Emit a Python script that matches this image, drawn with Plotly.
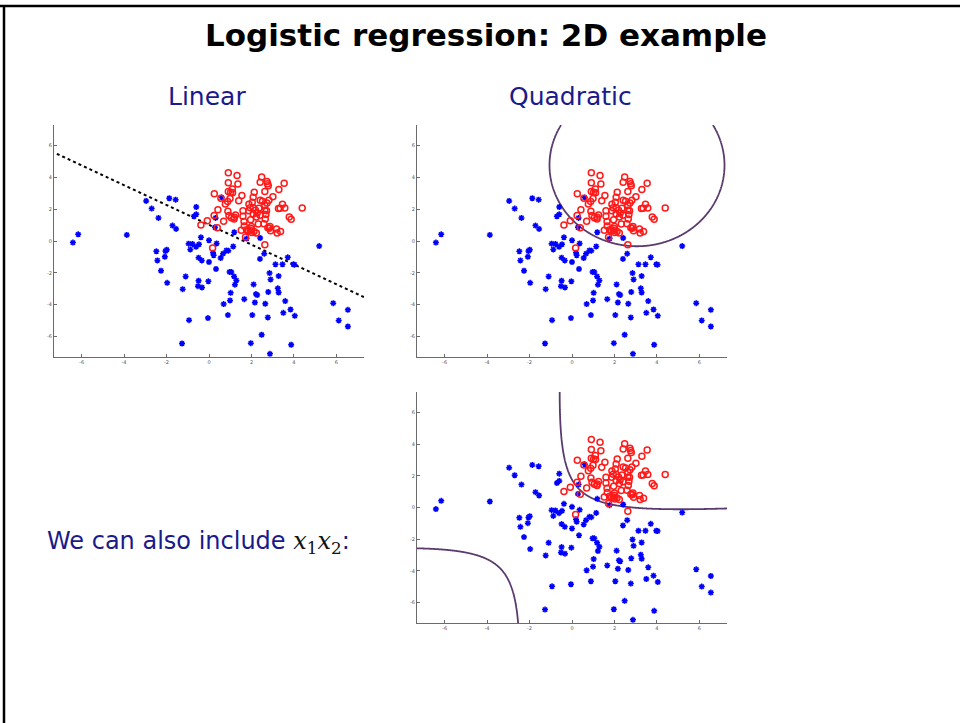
import numpy as np
import plotly.graph_objects as go

# ---- data ----
neg_x1 = [-6.41, -6.16, -3.87, -2.96, -2.70, -2.38, -1.87, -1.57, -1.72, -1.55, -2.48, -2.43, -2.26, -2.05,
          -1.99, -2.08, -1.97, -1.24, -1.10, -0.94, -1.27, -0.96, -0.78, -0.88, -0.61, -0.47, -0.38, -0.60,
          -0.60, -0.71, -0.49, -0.34, -0.49, -0.52, -0.33, 0.00, 0.36, 0.19, 0.22, 0.00, 0.33, -0.03, -0.05,
          0.31, 0.55, 0.66, 0.82, 0.91, 1.19, 1.14, 0.97, 1.05, 1.18, 1.29, 1.22, 1.02, 0.99, 0.69, 0.89,
          1.66, 2.10, 2.21, 2.27, 2.16, 2.04, 1.97, 2.48, 2.65, 2.79, 2.77, 2.87, 2.85, 2.90, 2.40, 2.60,
          2.41, 3.13, 3.28, 3.24, 3.28, 3.46, 3.71, 3.59, 3.50, 3.84, 4.04, 3.87, 3.97, 4.03, 5.19, 5.85,
          6.11, 6.54, 6.54, 0.60, 0.28, 1.77]
neg_x2 = [-0.10, 0.42, 0.38, 2.52, 2.04, 1.45, 2.69, 2.60, 0.97, 0.76, -0.65, -1.22, -1.87, -0.63,
          -0.55, -0.99, -2.63, -3.03, -2.23, -4.98, -6.45, -0.17, -0.19, -0.53, -0.36, -0.21, 0.23, 2.14,
          1.68, 1.55, -1.05, -1.22, -2.50, -2.84, -2.92, 0.04, -0.15, -0.74, -0.90, -1.32, -1.76, -2.54, -4.85,
          1.45, -1.07, -0.80, -0.59, -0.61, 0.55, -0.34, -1.95, -1.95, -2.23, -2.48, -2.75, -3.26, -3.74, -3.97, -4.66,
          -3.66, -2.73, -3.34, -3.40, -3.87, -4.66, -6.43, -5.90, -3.95, -3.21, -4.81, -7.10, -2.02, -2.42, -1.13, -0.80,
          0.19, -1.47, -2.21, -2.98, -3.24, -1.47, -1.03, -3.78, -4.52, -4.31, -4.71, -6.53, -1.47, -1.49, -0.32, -3.91,
          -5.00, -4.33, -5.38, 2.73, 0.86, 0.15]

pos_x1 = [0.91, 1.32, 2.48, 0.91, 1.36, 2.41, 2.73, 2.76, 2.79, 3.54, 0.25, 0.91, 1.02, 1.10, 1.11, 0.56,
          1.55, 2.13, 2.63, 3.29, 2.08, 3.01, 1.40, 0.99, 0.88, 0.77, 1.88, 2.04, 2.41, 2.52, 2.82, 2.73,
          2.63, 3.46, 3.27, 3.35, 3.57, 4.39, 0.42, 0.24, -0.08, -0.38, 0.39, 0.69, 0.89, 0.94, 1.05, 1.19,
          1.25, 1.18, 1.60, 1.60, 1.65, 1.96, 1.87, 1.94, 2.08, 2.19, 2.35, 2.27, 2.40, 2.08, 2.63, 2.71,
          2.68, 2.65, 2.59, 2.32, 2.23, 2.00, 1.66, 1.52, 1.77, 1.85, 1.94, 2.02, 2.23, 1.72, 2.77, 2.84,
          2.87, 2.90, 3.18, 3.21, 3.37, 3.78, 3.87, 2.63, 0.17, 2.12, 1.98]
pos_x2 = [4.29, 4.12, 4.03, 3.66, 3.59, 3.70, 3.74, 3.61, 3.47, 3.63, 2.98, 3.11, 3.07, 3.28, 3.03, 2.69,
          2.86, 3.07, 3.11, 3.24, 2.75, 2.79, 2.54, 2.67, 2.48, 2.33, 2.31, 2.44, 2.56, 2.50, 2.56, 2.39,
          2.23, 2.31, 2.04, 2.06, 2.08, 2.08, 1.97, 1.60, 1.28, 1.01, 0.84, 1.24, 1.87, 1.60, 1.47, 1.49,
          1.64, 1.39, 1.91, 1.55, 1.22, 1.34, 1.91, 2.10, 2.10, 1.93, 2.06, 1.76, 1.62, 1.70, 1.93, 1.91,
          1.66, 1.39, 1.09, 1.07, 1.51, 0.92, 0.95, 0.67, 0.71, 0.63, 0.67, 0.53, 0.50, 0.25, 0.84, 0.80,
          0.92, 0.65, 0.76, 0.50, 0.59, 1.51, 1.37, -0.23, -0.44, 0.60, 0.78]

# fitted model weights (estimated from the drawn decision boundaries)
linear_w = [-3.06, 1.87, 3.00]                                  # 1, x1, x2
quad_w = [-4.264, 3.606, 3.668, -0.589, -0.3845]                # 1, x1, x2, x1^2, x2^2
cross_w = [-5.0, 2.3355, 3.046, -0.2045, -0.1212, 2.2095]       # 1, x1, x2, x1^2, x2^2, x1*x2

tick_vals = [-6, -4, -2, 0, 2, 4, 6]
tick_text = ["-6", "-4", "-2", "0", "2", "4", "6"]
axis_range = [-7.3, 7.3]

# ---- model evaluation grid ----
g = np.linspace(axis_range[0], axis_range[1], 500)
GX, GY = np.meshgrid(g, g)
z_lin = linear_w[0] + linear_w[1] * GX + linear_w[2] * GY
z_quad = quad_w[0] + quad_w[1] * GX + quad_w[2] * GY + quad_w[3] * GX**2 + quad_w[4] * GY**2
z_cross = (cross_w[0] + cross_w[1] * GX + cross_w[2] * GY + cross_w[3] * GX**2
           + cross_w[4] * GY**2 + cross_w[5] * GX * GY)

fig = go.Figure()

BLUE = "#0000ff"
RED = "#ff1a1a"
BOUND = "#5b3b6e"


def add_panel(idx, z, line):
    xa = "x" if idx == 1 else f"x{idx}"
    ya = "y" if idx == 1 else f"y{idx}"
    fig.add_trace(go.Scatter(x=neg_x1, y=neg_x2, mode="markers", xaxis=xa, yaxis=ya,
                             marker=dict(symbol="asterisk-open", size=5, color=BLUE,
                                         line=dict(color=BLUE, width=1.5)),
                             showlegend=False, hoverinfo="skip"))
    fig.add_trace(go.Scatter(x=pos_x1, y=pos_x2, mode="markers", xaxis=xa, yaxis=ya,
                             marker=dict(symbol="circle-open", size=6, color=RED,
                                         line=dict(color=RED, width=1.5)),
                             showlegend=False, hoverinfo="skip"))
    fig.add_trace(go.Contour(x=g, y=g, z=z, xaxis=xa, yaxis=ya, showscale=False, showlegend=False,
                             contours=dict(start=0, end=0, size=1, coloring="none"),
                             line=line, hoverinfo="skip"))


add_panel(1, z_lin, dict(color="#000000", width=2, dash="dot"))
add_panel(2, z_quad, dict(color=BOUND, width=1.8))
add_panel(3, z_cross, dict(color=BOUND, width=1.8))

H = 723.0
W = 960.0


def ydom(top_px, bot_px):
    return [(H - bot_px) / H, (H - top_px) / H]


axis_common = dict(range=axis_range, tickvals=tick_vals, ticktext=tick_text, showgrid=False,
                   zeroline=False, showline=True, linecolor="#6b6b6b", linewidth=1,
                   ticks="inside", ticklen=3, tickcolor="#6b6b6b",
                   tickfont=dict(size=5, color="#555555", family="DejaVu Sans"))

fig.update_layout(
    width=960, height=723, autosize=False, showlegend=False,
    margin=dict(l=0, r=0, t=0, b=0),
    paper_bgcolor="white", plot_bgcolor="white",
    xaxis=dict(domain=[54 / W, 364 / W], anchor="y", **axis_common),
    yaxis=dict(domain=ydom(125, 357), anchor="x", **axis_common),
    xaxis2=dict(domain=[417 / W, 727 / W], anchor="y2", **axis_common),
    yaxis2=dict(domain=ydom(125, 357), anchor="x2", **axis_common),
    xaxis3=dict(domain=[417 / W, 727 / W], anchor="y3", **axis_common),
    yaxis3=dict(domain=ydom(392, 623), anchor="x3", **axis_common),
)

NAVY = "#1a1a8a"
fig.add_annotation(text="<b>Logistic regression: 2D example</b>", x=486 / W, y=(H - 35) / H,
                   xref="paper", yref="paper", showarrow=False, xanchor="center", yanchor="middle",
                   font=dict(family="DejaVu Sans", size=31, color="black"))
fig.add_annotation(text="Linear", x=207 / W, y=(H - 97) / H, xref="paper", yref="paper",
                   showarrow=False, xanchor="center", yanchor="middle",
                   font=dict(family="DejaVu Sans", size=25, color=NAVY))
fig.add_annotation(text="Quadratic", x=570 / W, y=(H - 97) / H, xref="paper", yref="paper",
                   showarrow=False, xanchor="center", yanchor="middle",
                   font=dict(family="DejaVu Sans", size=25, color=NAVY))
fig.add_annotation(
    text="We can also include <span style='font-family:DejaVu Serif;color:#111111'><i>x</i><sub>1</sub><i>x</i><sub>2</sub></span>:",
    x=45 / W, y=(H - 542) / H, xref="paper", yref="paper", showarrow=False,
    xanchor="left", yanchor="middle", font=dict(family="DejaVu Sans", size=24, color=NAVY))

# slide frame
fig.add_shape(type="line", xref="paper", yref="paper", x0=0, x1=1, y0=(H - 6) / H, y1=(H - 6) / H,
              line=dict(color="black", width=2.5))
fig.add_shape(type="line", xref="paper", yref="paper", x0=4 / W, x1=4 / W, y0=0, y1=(H - 6) / H,
              line=dict(color="black", width=2.5))

fig.write_html("out.html", config={"displayModeBar": False},
               post_script="document.body.style.margin='0';document.body.style.overflow='hidden';")
